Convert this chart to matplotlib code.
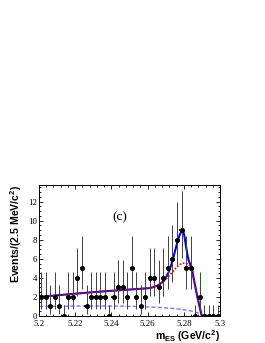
import numpy as np
import matplotlib
matplotlib.use("Agg")
import matplotlib.pyplot as plt
from matplotlib.ticker import MultipleLocator, FixedLocator, FixedFormatter

# ---------------- data ----------------
bin_lo, bin_hi, n_bins = 5.20, 5.30, 40
counts = [2, 2, 1, 2, 1, 0, 2, 2, 4, 5,
          1, 2, 2, 2, 2, 0, 2, 3, 3, 2,
          5, 2, 1, 2, 4, 4, 3, 4, 5, 6,
          8, 9, 5, 5, 0, 2, 0, 0, 0, 0]
# Poisson interval bounds (lower, upper) by count
pois_low = {0: 0.0, 1: 0.17, 2: 0.71, 3: 1.37, 4: 2.09, 5: 2.84, 6: 3.62, 8: 5.25, 9: 6.10}
pois_up = {0: 1.15, 1: 3.30, 2: 4.64, 3: 5.92, 4: 7.16, 5: 8.38, 6: 9.58, 8: 11.98, 9: 13.15}

xticks = [5.20, 5.22, 5.24, 5.26, 5.28, 5.30]
xticklabels = ["5.2", "5.22", "5.24", "5.26", "5.28", "5.3"]
yticks = [0, 2, 4, 6, 8, 10, 12]
yticklabels = ["0", "2", "4", "6", "8", "10", "12"]

# fit-model parameters
E0 = 5.29
argus_c = -22.0          # combinatorial ARGUS shape
argus_norm = 1.0         # value at 5.20
lin_a0, lin_a1 = 1.0, 15.0   # smooth peaking-bkg part
bkgG_amp, bkgG_mu, bkgG_sig = 2.7, 5.2805, 0.0072
sig_amp, sig_mu, sig_sigL, sig_sigR = 3.4, 5.2793, 0.0038, 0.0017
cut_end, cut_width = 5.2898, 0.0055

# ---------------- model ----------------
def argus(m, c):
    y = np.clip(1 - (m / E0) ** 2, 0, None)
    return m * np.sqrt(y) * np.exp(c * y)

m = np.linspace(5.2, 5.3, 2001)
cut = np.clip((cut_end - m) / cut_width, 0, 1)
dashed = argus_norm * argus(m, argus_c) / argus(np.array(5.2), argus_c)
peak_bkg = (lin_a0 + lin_a1 * (m - 5.2) +
            bkgG_amp * np.exp(-0.5 * ((m - bkgG_mu) / bkgG_sig) ** 2)) * cut
red = dashed + peak_bkg
sig_s = np.where(m < sig_mu, sig_sigL, sig_sigR)
signal = sig_amp * np.exp(-0.5 * ((m - sig_mu) / sig_s) ** 2) * cut
blue = red + signal

# ---------------- figure ----------------
plt.rcParams['mathtext.fontset'] = 'custom'
plt.rcParams['mathtext.rm'] = 'Liberation Sans:bold'
plt.rcParams['mathtext.bf'] = 'Liberation Sans:bold'
plt.rcParams['mathtext.it'] = 'Liberation Sans:bold'

fig = plt.figure(figsize=(2.65, 3.43), dpi=100)
ax = fig.add_axes([39 / 265, 1 - 316 / 343, (220 - 39) / 265, (316 - 185) / 343])

edges = np.linspace(bin_lo, bin_hi, n_bins + 1)
centers = 0.5 * (edges[:-1] + edges[1:])
half = 0.5 * (edges[1] - edges[0])
cnt = np.array(counts, dtype=float)
lo = np.array([c - pois_low[c] for c in counts])
hi = np.array([pois_up[c] - c for c in counts])

ax.plot(m, dashed, color='#7878ff', lw=1.0, ls=(0, (3, 1.5)), zorder=2)
ax.plot(m, blue, color='#0000ee', lw=1.5, zorder=3)
ax.plot(m, red, color='#ee0000', lw=1.2, ls=(0, (1, 1)), zorder=4)

ax.errorbar(centers, cnt, yerr=[lo, hi], fmt='none',
            ecolor='#404040', elinewidth=0.7, capsize=0, zorder=5)
ax.errorbar(centers, cnt, xerr=half, fmt='o', ms=2.6,
            color='black', ecolor='black', elinewidth=1.2, capsize=0, zorder=6)

ax.set_xlim(5.2, 5.3)
ax.set_ylim(0, 13.75)
ax.xaxis.set_major_locator(FixedLocator(xticks))
ax.xaxis.set_major_formatter(FixedFormatter(xticklabels))
ax.yaxis.set_major_locator(FixedLocator(yticks))
ax.yaxis.set_major_formatter(FixedFormatter(yticklabels))
ax.xaxis.set_minor_locator(MultipleLocator(0.004))
ax.yaxis.set_minor_locator(MultipleLocator(0.5))
ax.tick_params(which='both', direction='in', top=True, right=True, width=0.6)
ax.tick_params(which='major', length=3.0)
ax.tick_params(axis='x', which='major', pad=2.6)
ax.tick_params(axis='y', which='major', pad=1.5)
ax.tick_params(which='minor', length=1.6)
for lab in ax.get_xticklabels() + ax.get_yticklabels():
    lab.set_family('Liberation Serif')
    lab.set_fontsize(6.4)
for s in ax.spines.values():
    s.set_linewidth(0.7)

ax.set_ylabel('Events/(2.5 MeV/c$^{2}$)', loc='top', family='Liberation Sans',
              fontweight='bold', fontsize=7.6, labelpad=2.5)
ax.set_xlabel(r'm$_{\rm ES}$ (GeV/c$^{2}$)', loc='right', family='Liberation Sans',
              fontweight='bold', fontsize=7.6, labelpad=0.5)

ax.text(5.2449, 10.4, '(c)', family='Liberation Serif', fontsize=9.5,
        ha='center', va='center')

fig.savefig('out.png', dpi=100)
